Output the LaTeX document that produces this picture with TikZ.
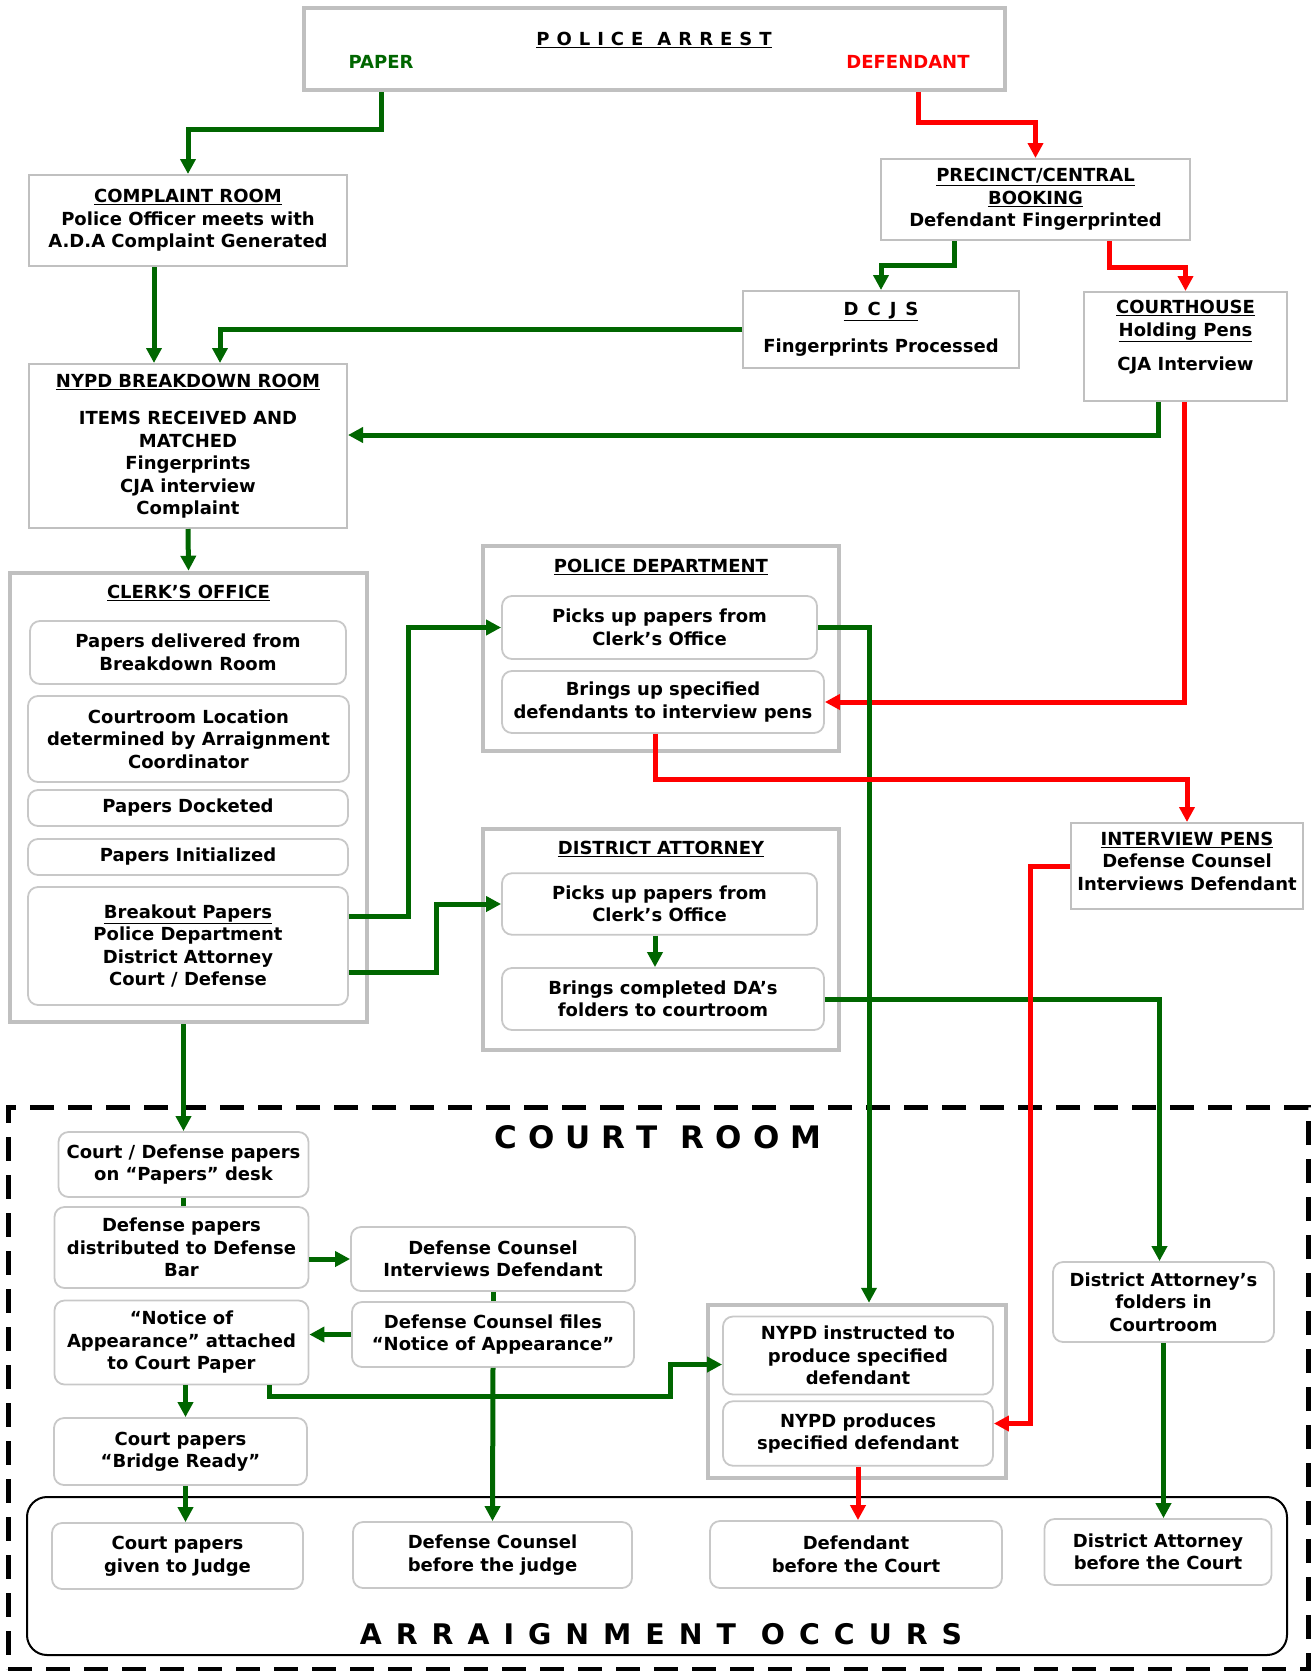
\documentclass[tikz,border=0pt]{standalone}
\usepackage{fontspec}
\setmainfont{DejaVu Sans}
\usepackage{tikz}
\usetikzlibrary{arrows.meta}
\definecolor{pgreen}{RGB}{0,102,0}
\definecolor{pred}{RGB}{255,0,0}
\definecolor{frame}{RGB}{192,192,192}
\definecolor{soft}{RGB}{200,200,200}

\begin{document}
\begin{tikzpicture}[x=1pt,y=-1pt,
  every node/.style={align=center,font=\fontsize{18}{22.5}\selectfont\bfseries,inner sep=0pt},
  dims/.style 2 args={minimum width=#1,minimum height=#2},
  plainbox/.style={draw=frame,line width=2pt},
  heavybox/.style={draw=frame,line width=4.5pt},
  softbox/.style={draw=soft,line width=1.8pt,rounded corners=10pt},
  glink/.style={draw=pgreen,line width=5pt},
  garrow/.style={draw=pgreen,line width=5pt,-{Triangle[length=15pt,width=15pt]}},
  rarrow/.style={draw=pred,line width=5pt,-{Triangle[length=15pt,width=15pt]}}]
\useasboundingbox (0,0) rectangle (1312,1671);

\node[heavybox,line width=4pt,dims={701}{82}] (arrest) at (654.5,49) {};
\node (arresttitle) at (654,40) {\underline{\spaceskip=7pt\relax P O L I C E\hspace{14pt}A R R E S T}};
\node[text=pgreen] (paper) at (381,61.5) {PAPER};
\node[text=pred] (defendant) at (908,61.5) {DEFENDANT};

\node[plainbox,dims={318}{91}] (complaint) at (188,220.5) {\underline{COMPLAINT ROOM}\\Police Officer meets with\\A.D.A Complaint Generated};
\node[plainbox,dims={309}{81}] (booking) at (1035.5,199.5) {\underline{PRECINCT/CENTRAL}\\\underline{BOOKING}\\Defendant Fingerprinted};
\node[plainbox,dims={276}{77}] (dcjs) at (881,329.5) {\underline{\spaceskip=9pt\relax D C J S}\\[15pt]Fingerprints Processed};
\node[plainbox,dims={203}{109},text depth=22pt] (courthouse) at (1185.5,346.5) {\underline{COURTHOUSE}\\\underline{Holding Pens}\\[12pt]CJA Interview};
\node[plainbox,dims={318}{164}] (breakdown) at (188,446) {\underline{NYPD BREAKDOWN ROOM}\\[15pt]ITEMS RECEIVED AND\\MATCHED\\Fingerprints\\CJA interview\\Complaint};

\node[heavybox,dims={357}{449}] (clerk) at (188.5,797.5) {};
\node (clerktitle) at (188.5,593) {\underline{CLERK’S OFFICE}};
\node[softbox,dims={316}{63}] (delivered) at (188,652.5) {Papers delivered from\\Breakdown Room};
\node[softbox,dims={321}{86}] (location) at (188.5,739) {Courtroom Location\\determined by Arraignment\\Coordinator};
\node[softbox,dims={320}{36}] (docketed) at (188,808) {Papers Docketed};
\node[softbox,dims={320}{36}] (initialized) at (188,857) {Papers Initialized};
\node[softbox,dims={320}{118}] (breakout) at (188,946) {\underline{Breakout Papers}\\Police Department\\District Attorney\\Court / Defense};

\node[heavybox,dims={356}{205}] (police) at (661,648.5) {};
\node (policetitle) at (661,567) {\underline{POLICE DEPARTMENT}};
\node[softbox,dims={315}{63}] (pdpickup) at (659.5,627.5) {Picks up papers from\\Clerk’s Office};
\node[softbox,dims={322}{62}] (pdbrings) at (663,702) {Brings up specified\\defendants to interview pens};

\node[heavybox,dims={356}{221}] (da) at (661,939.5) {};
\node (datitle) at (661,849) {\underline{DISTRICT ATTORNEY}};
\node[softbox,dims={315}{61.5}] (dapickup) at (659.5,904) {Picks up papers from\\Clerk’s Office};
\node[softbox,dims={322}{62}] (dabrings) at (663,999) {Brings completed DA’s\\folders to courtroom};

\node[plainbox,dims={232}{86},text depth=10pt] (pens) at (1187,866) {\underline{INTERVIEW PENS}\\Defense Counsel\\Interviews Defendant};

\node[draw,line width=5pt,dash pattern=on 24pt off 14pt,dims={1300}{562}] (courtroom) at (658,1388) {};
\node[draw,line width=2pt,rounded corners=20pt,dims={1260}{158}] (arraign) at (657,1576) {};
\node[font=\fontsize{31}{36}\selectfont\bfseries] (courttitle) at (658,1137) {\spaceskip=11pt\relax C O U R T\hspace{23pt}R O O M};
\node[font=\fontsize{28.4}{34}\selectfont\bfseries] (arraigntitle) at (661,1634) {\spaceskip=14pt\relax A R R A I G N M E N T\hspace{25pt}O C C U R S};

\node[softbox,dims={250}{65}] (desk) at (183.5,1164.5) {Court / Defense papers\\on “Papers” desk};
\node[softbox,dims={254}{81}] (distributed) at (181.5,1247.5) {Defense papers\\distributed to Defense\\Bar};
\node[softbox,dims={254}{84}] (attached) at (181.5,1342.5) {“Notice of\\Appearance” attached\\to Court Paper};
\node[softbox,dims={253}{67}] (bridge) at (180.5,1451.5) {Court papers\\“Bridge Ready”};
\node[softbox,dims={251}{66}] (judgepapers) at (177.5,1556) {Court papers\\given to Judge};
\node[softbox,dims={284}{64}] (interviews) at (493,1259) {Defense Counsel\\Interviews Defendant};
\node[softbox,dims={282}{65}] (files) at (493,1334.5) {Defense Counsel files\\“Notice of Appearance”};
\node[softbox,dims={279}{66}] (counsel) at (492.5,1555) {Defense Counsel\\before the judge};
\node[heavybox,dims={298}{173}] (nypd) at (857,1391.5) {};
\node[softbox,dims={270}{78}] (instructed) at (858,1355.5) {NYPD instructed to\\produce specified\\defendant};
\node[softbox,dims={270}{64.5}] (produces) at (858,1433.5) {NYPD produces\\specified defendant};
\node[softbox,dims={292}{67}] (defcourt) at (856,1554.5) {Defendant\\before the Court};
\node[softbox,dims={221}{80}] (dafolders) at (1163.5,1302) {District Attorney’s\\folders in\\Courtroom};
\node[softbox,dims={227}{66}] (dacourt) at (1158,1552) {District Attorney\\before the Court};

\draw[garrow] (paper |- arrest.south) -- ++(0,37) -| (complaint.north);
\draw[rarrow] ([xshift=10pt]defendant |- arrest.south) -- ++(0,30) -| (booking.north);
\draw[garrow] ([xshift=-81pt]booking.south) -- ++(0,24) -| (dcjs.north);
\draw[rarrow] ([xshift=73.5pt]booking.south) -- ++(0,26) -| (courthouse.north);
\draw[garrow] ([xshift=-34pt]complaint.south) -- ([xshift=-34pt]breakdown.north);
\draw[garrow] (dcjs.west) -| ([xshift=32pt]breakdown.north);
\draw[garrow] ([xshift=-27.5pt]courthouse.south) |- ([yshift=11pt]breakdown.east);
\draw[rarrow] ([xshift=-1.5pt]courthouse.south) |- (pdbrings.east);
\draw[garrow] (breakdown.south) -- (clerk.north);
\draw[garrow] ([yshift=30pt]breakout.east) -- ++(60,0) |- (pdpickup.west);
\draw[garrow] ([yshift=-26pt]breakout.east) -- ++(88,0) |- (dapickup.west);
\draw[garrow] (pdpickup.east) -| ([xshift=12pt]nypd.north);
\draw[rarrow] ([xshift=-8pt]pdbrings.south) -- ++(0,46) -| (pens.north);
\draw[garrow] ([xshift=-4.5pt]dapickup.south) -- ([xshift=-8pt]dabrings.north);
\draw[garrow] (dabrings.east) -| ([xshift=-4pt]dafolders.north);
\draw[rarrow] (pens.west) -- ++(-40,0) |- ([yshift=10pt]produces.east);

\draw[garrow] (desk.north |- clerk.south) -- (desk.north);
\draw[glink] (desk.south) -- (desk.south |- distributed.north);
\draw[garrow] (distributed.east |- interviews.west) -- (interviews.west);
\draw[glink] (interviews.south) -- (files.north);
\draw[garrow] (files.west) -- (attached.east |- files.west);
\draw[garrow] ([xshift=4pt]attached.south) -- ([xshift=4pt]attached.south |- bridge.north);
\draw[garrow] ([xshift=88pt]attached.south) -- ++(0,11) -- ++(401,0) |- ([yshift=-9pt]instructed.west);
\draw[garrow] (files.south) -- (counsel.north);
\draw[garrow] ([xshift=5pt]bridge.south) -- ([xshift=5pt]bridge.south |- judgepapers.north);
\draw[rarrow] (produces.south) -- (produces.south |- defcourt.north);
\draw[garrow] (dafolders.south) -- (dafolders.south |- dacourt.north);
\end{tikzpicture}
\end{document}
